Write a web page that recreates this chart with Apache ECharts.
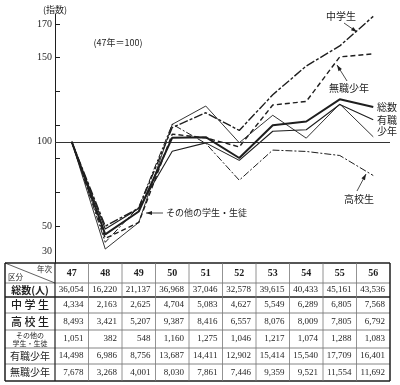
<!DOCTYPE html>
<html><head><meta charset="utf-8">
<script src="https://cdn.jsdelivr.net/npm/echarts@6/dist/echarts.min.js"></script>
<style>html,body{margin:0;padding:0;background:#fff}#c{width:400px;height:385px}</style>
</head><body><div id="c"></div>
<script>
// Categories (年次)
const years = ['47','48','49','50','51','52','53','54','55','56'];
// Index values (47年 = 100)
const idxTotal      = [100, 45.0, 58.6, 102.5, 102.8, 90.4, 109.9, 112.1, 125.3, 120.7];
const idxJunior     = [100, 49.9, 60.6, 108.5, 117.3, 106.8, 128.0, 145.1, 157.0, 174.6];
const idxHigh       = [100, 40.3, 61.3, 110.5, 99.1, 77.2, 95.1, 94.3, 91.9, 80.0];
const idxOther      = [100, 36.3, 52.1, 110.4, 121.3, 99.5, 115.8, 102.2, 122.5, 103.0];
const idxEmployed   = [100, 48.2, 60.4, 94.4, 99.4, 89.0, 106.3, 107.2, 122.2, 113.1];
const idxUnemployed = [100, 42.6, 52.1, 104.6, 102.4, 97.0, 121.9, 124.0, 150.5, 152.3];
// Table counts (人)
const cntTotal      = [36054,16220,21137,36968,37046,32578,39615,40433,45161,43536];
const cntJunior     = [4334,2163,2625,4704,5083,4627,5549,6289,6805,7568];
const cntHigh       = [8493,3421,5207,9387,8416,6557,8076,8009,7805,6792];
const cntOther      = [1051,382,548,1160,1275,1046,1217,1074,1288,1083];
const cntEmployed   = [14498,6986,8756,13687,14411,12902,15414,15540,17709,16401];
const cntUnemployed = [7678,3268,4001,8030,7861,7446,9359,9521,11554,11692];
// Axis tick values
const yTickValues  = [50,70,90,110,130,150,170];
const yLabelValues = [170,150,100,50];
const yBottomLabel = '30';

const INK = '#1e1e1e';
const SERIF = 'Liberation Serif';
const JP = 'Noto Sans CJK JP';

const chart = echarts.init(document.getElementById('c'), null, {renderer:'canvas'});

function ln(name, data, width, type, z) {
  return {
    name, type:'line', data, symbol:'none', z: z||2, silent:true,
    lineStyle:{color:INK, width, type}, animation:false
  };
}

const option = {
  backgroundColor:'#fff',
  animation:false,
  grid:{left:55, right:10, top:14, bottom:122, containLabel:false, outerBoundsMode:'none'},
  xAxis:{type:'category', data:years, boundaryGap:true,
    axisLine:{show:false}, axisTick:{show:false}, axisLabel:{show:false}, splitLine:{show:false}},
  yAxis:{type:'value', min:28, max:176,
    axisLine:{show:true, lineStyle:{color:INK, width:1}},
    axisTick:{show:true, inside:true, length:5, customValues:yTickValues, lineStyle:{color:INK}},
    axisLabel:{show:true, customValues:yLabelValues.concat([35]), margin:3,
      color:INK, fontFamily:SERIF, fontSize:10,
      formatter:v => (v < 40 ? yBottomLabel : String(v))},
    splitLine:{show:false}},
  series:[
    Object.assign(ln('総数', idxTotal, 2, 'solid', 5), {
      markLine:{silent:true, symbol:'none', label:{show:false},
        lineStyle:{color:'#333', width:1, type:'solid'}, data:[{yAxis:100}]}
    }),
    ln('中学生', idxJunior, 1.4, [9,2,3,2], 4),
    ln('高校生', idxHigh, 1, [7,2,2,2], 3),
    ln('その他の学生・生徒', idxOther, 0.9, 'solid', 3),
    ln('有職少年', idxEmployed, 1.1, 'solid', 4),
    ln('無職少年', idxUnemployed, 1.4, [5,3], 4)
  ]
};
chart.setOption(option);

// ---- annotations and table (graphic) ----
const g = [];
function text(x, y, s, opt) {
  g.push({type:'text', silent:true, x, y, style:Object.assign({text:s, fill:INK,
    font:'10px "'+JP+'"', textAlign:'center', textVerticalAlign:'middle'}, opt||{})});
}
function line(x1,y1,x2,y2,w,color) {
  g.push({type:'line', silent:true, shape:{x1,y1,x2,y2}, style:{stroke:color||INK, lineWidth:w||1}});
}
function arrow(x1,y1,x2,y2) {
  line(x1,y1,x2,y2,0.8);
  const a = Math.atan2(y2-y1, x2-x1), L = 6, W = 2;
  const bx = x2 - L*Math.cos(a), by = y2 - L*Math.sin(a);
  g.push({type:'polygon', silent:true, shape:{points:[[x2,y2],
    [bx + W*Math.sin(a), by - W*Math.cos(a)], [bx - W*Math.sin(a), by + W*Math.cos(a)]]},
    style:{fill:INK}});
}

text(55, 10, '(指数)', {font:'9px "'+JP+'"'});
text(118, 43, '(47年＝100)', {font:'9px "'+JP+'"'});
text(341, 16, '中学生', {font:'10px "'+JP+'"'});
arrow(344, 23, 357, 32);
text(349, 88, '無職少年', {font:'10px "'+JP+'"'});
arrow(347, 81, 337, 65);
text(377, 107, '総数', {font:'10px "'+JP+'"', textAlign:'left'});
text(377, 120, '有職', {font:'10px "'+JP+'"', textAlign:'left'});
text(377, 131, '少年', {font:'10px "'+JP+'"', textAlign:'left'});
text(359, 199, '高校生', {font:'10px "'+JP+'"'});
arrow(357, 191, 366, 174);
arrow(163, 213, 146, 213);
text(166, 213, 'その他の学生・生徒', {font:'9px "'+JP+'"', textAlign:'left'});

// table
const xc = years.map((y,i) => chart.convertToPixel({xAxisIndex:0}, i));
const bw = xc[1] - xc[0];
const colEdges = [5].concat(xc.map(x => x - bw/2)).concat([xc[xc.length-1] + bw/2]);
const rowEdges = [263, 283, 297, 313, 330, 348, 364, 381];
const rows = [
  {label:'総数(人)', data:cntTotal, font:'bold 10px "'+JP+'"'},
  {label:'中 学 生', data:cntJunior, font:'500 11px "'+JP+'"'},
  {label:'高 校 生', data:cntHigh, font:'500 11px "'+JP+'"'},
  {label:'その他の\n学生・生徒', data:cntOther, font:'7px "'+JP+'"', lh:8},
  {label:'有職少年', data:cntEmployed, font:'10px "'+JP+'"'},
  {label:'無職少年', data:cntUnemployed, font:'10px "'+JP+'"'}
];
const L0 = colEdges[0], R0 = colEdges[colEdges.length-1];
rowEdges.forEach((y,i) => {
  const outer = (i===0 || i===rowEdges.length-1);
  line(L0, y, R0, y, outer?1.5:(i===2?1.6:0.8), outer?INK:(i===2?INK:'#666'));
});
colEdges.forEach((x,i) => {
  const outer = (i===0 || i===colEdges.length-1);
  line(x, rowEdges[0], x, rowEdges[rowEdges.length-1], outer?1.5:(i===1?1.2:0.8), outer||i===1?INK:'#777');
});
line(colEdges[0], rowEdges[0], colEdges[1], rowEdges[1], 0.7);
text(colEdges[1]-3, rowEdges[0]+6, '年次', {font:'7.5px "'+JP+'"', textAlign:'right'});
text(colEdges[0]+3, rowEdges[1]-6, '区分', {font:'7.5px "'+JP+'"', textAlign:'left'});
years.forEach((y,i) => text(xc[i], (rowEdges[0]+rowEdges[1])/2, y, {font:'bold 10px "'+SERIF+'"'}));
rows.forEach((r,ri) => {
  const yc = (rowEdges[ri+1]+rowEdges[ri+2])/2;
  text((colEdges[0]+colEdges[1])/2, yc, r.label, Object.assign({font:r.font}, r.lh?{lineHeight:r.lh}:{}));
  r.data.forEach((v,i) => {
    text(xc[i] + bw/2 - 5, yc, v.toLocaleString('en-US'), {font:'9px "'+SERIF+'"', textAlign:'right'});
  });
});

chart.setOption({graphic:{elements:g}});
</script></body></html>
